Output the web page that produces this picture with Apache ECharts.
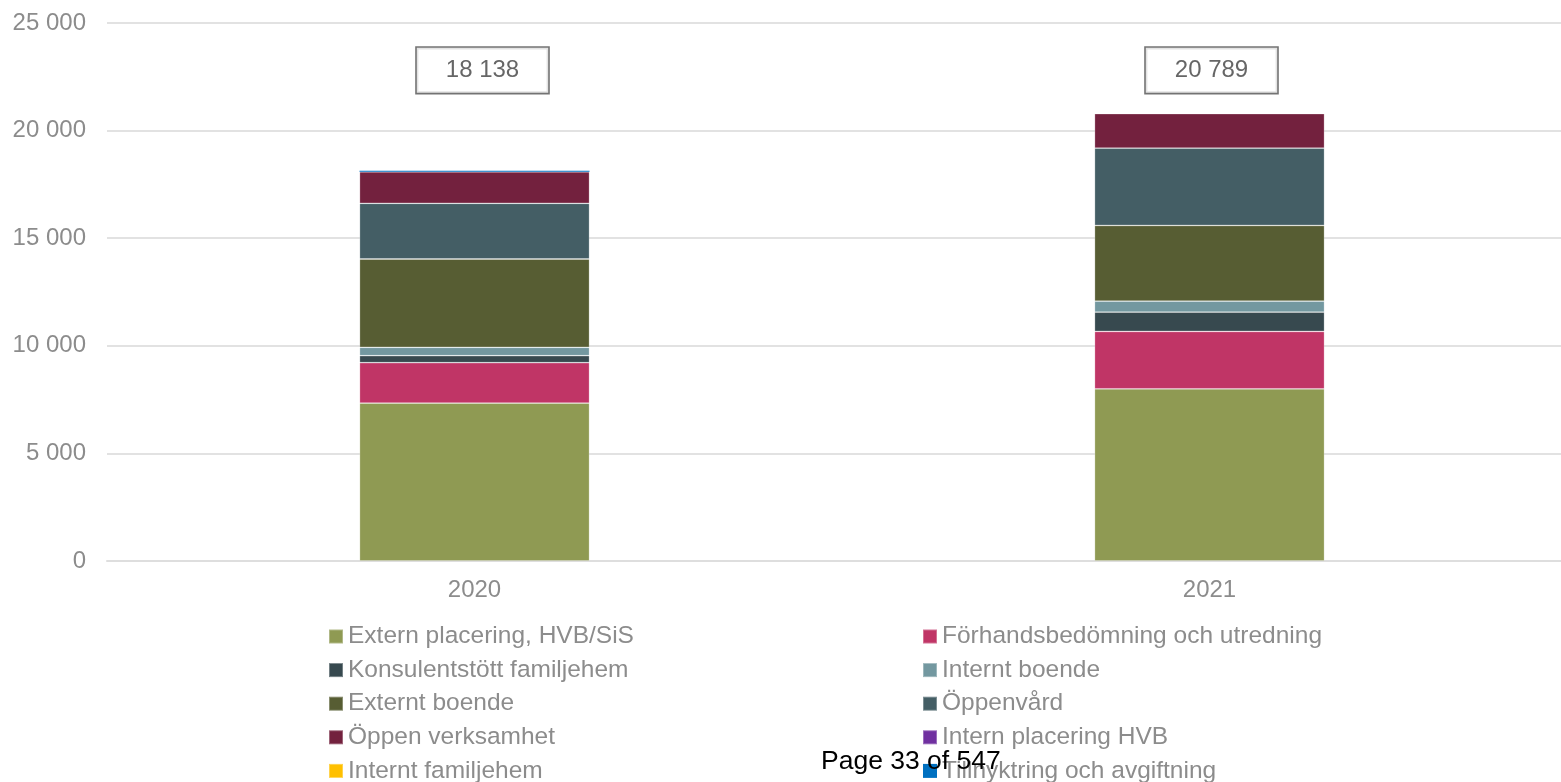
<!DOCTYPE html>
<html>
<head>
<meta charset="utf-8">
<script src="https://cdn.jsdelivr.net/npm/echarts@6/dist/echarts.min.js"></script>
<style>
html,body{margin:0;padding:0;background:#fff;}
#c{width:1561px;height:782px;}
</style>
</head>
<body>
<div id="c"></div>
<script>
const categories = ['2020', '2021'];
const seriesNames = [
  'Extern placering, HVB/SiS',
  'Förhandsbedömning och utredning',
  'Konsulentstött familjehem',
  'Internt boende',
  'Externt boende',
  'Öppenvård',
  'Öppen verksamhet',
  'Intern placering HVB',
  'Internt familjehem',
  'Tillnyktring och avgiftning'
];
const externPlacering = [7340, 8000];
const forhandsbedomning = [1875, 2667];
const konsulentstott = [325, 897];
const interntBoende = [390, 511];
const externtBoende = [4103, 3518];
const oppenvard = [2588, 3592];
const oppenVerksamhet = [1467, 1604];
const internPlaceringHVB = [0, 0];
const interntFamiljehem = [0, 0];
const tillnyktring = [50, 0];
const yTicks = [0, 5000, 10000, 15000, 20000, 25000];

const seriesValues = [externPlacering, forhandsbedomning, konsulentstott, interntBoende,
  externtBoende, oppenvard, oppenVerksamhet, internPlaceringHVB, interntFamiljehem, tillnyktring];
const colors = ['#8F9A53', '#C03566', '#37494F', '#7398A0', '#575D33', '#445E65',
  '#73213E', '#7030A0', '#FFC000', '#0070C0'];

const fmt = n => String(n).replace(/\B(?=(\d{3})+(?!\d))/g, ' ');
const totals = categories.map((_, i) => seriesValues.reduce((s, arr) => s + arr[i], 0));
const LABEL_Y = 22800;
const LABEL_OFFSETS = [[8, 0], [2, 0]];

const barSeries = seriesNames.map((name, k) => ({
  name: name,
  type: 'bar',
  stack: 'total',
  barWidth: 230,
  data: seriesValues[k].map(v => v === 0 ? '-' : v),
  itemStyle: {
    color: colors[k],
    borderColor: 'rgba(255,255,255,0.3)',
    borderWidth: k === 9 ? 0 : 0.8
  },
  emphasis: { disabled: true }
}));

const totalSeries = {
  name: 'Summa',
  type: 'scatter',
  symbolSize: 0,
  data: categories.map((c, i) => ({
    value: [c, LABEL_Y, totals[i]],
    label: { offset: LABEL_OFFSETS[i] }
  })),
  label: {
    show: true,
    position: 'inside',
    formatter: p => fmt(p.data.value[2]),
    fontFamily: 'Liberation Sans, Arial, sans-serif',
    fontSize: 24,
    lineHeight: 24,
    color: '#404040',
    borderColor: '#505050',
    borderWidth: 1.6,
    padding: [11, 29, 10, 29],
    backgroundColor: '#fff'
  },
  silent: true,
  z: 10
};

const chart = echarts.init(document.getElementById('c'), null, { renderer: 'canvas' });
const legendText = {
  color: '#8C8C8C',
  fontFamily: 'Liberation Sans, Arial, sans-serif',
  fontSize: 24.5,
  lineHeight: 24
};
const legendBase = {
  orient: 'vertical',
  top: 624,
  height: 220,
  padding: 0,
  itemWidth: 14, itemHeight: 14, itemGap: 8.6,
  icon: 'rect',
  selectedMode: false,
  textStyle: legendText
};
chart.setOption({
  animation: false,
  backgroundColor: '#fff',
  grid: {
    left: 107, top: 23, width: 1470, height: 538,
    containLabel: false,
    outerBoundsMode: 'none'
  },
  xAxis: {
    type: 'category',
    data: categories,
    axisLine: { show: true, lineStyle: { color: '#DEDEDE', width: 2 } },
    axisTick: { show: false },
    axisLabel: {
      color: '#8C8C8C',
      fontFamily: 'Liberation Sans, Arial, sans-serif',
      fontSize: 24,
      margin: 17
    }
  },
  yAxis: {
    type: 'value',
    min: yTicks[0],
    max: yTicks[yTicks.length - 1],
    interval: yTicks[1] - yTicks[0],
    axisLine: { show: false },
    axisTick: { show: false },
    splitLine: { lineStyle: { color: '#E2E2E2', width: 2 } },
    axisLabel: {
      color: '#8C8C8C',
      fontFamily: 'Liberation Sans, Arial, sans-serif',
      fontSize: 24,
      margin: 21,
      formatter: v => fmt(v)
    }
  },
  legend: [
    Object.assign({}, legendBase, {
      left: 328,
      data: [seriesNames[0], seriesNames[2], seriesNames[4], seriesNames[6], seriesNames[8]]
    }),
    Object.assign({}, legendBase, {
      left: 922,
      data: [seriesNames[1], seriesNames[3], seriesNames[5], seriesNames[7], seriesNames[9]]
    })
  ],
  graphic: [
    {
      type: 'text',
      left: 821,
      top: 748,
      z: 100,
      style: {
        text: 'Page 33 of 547',
        fill: '#000',
        font: '26.5px "Liberation Sans", Arial, sans-serif'
      }
    }
  ],
  series: barSeries.concat([totalSeries])
});
</script>
</body>
</html>
